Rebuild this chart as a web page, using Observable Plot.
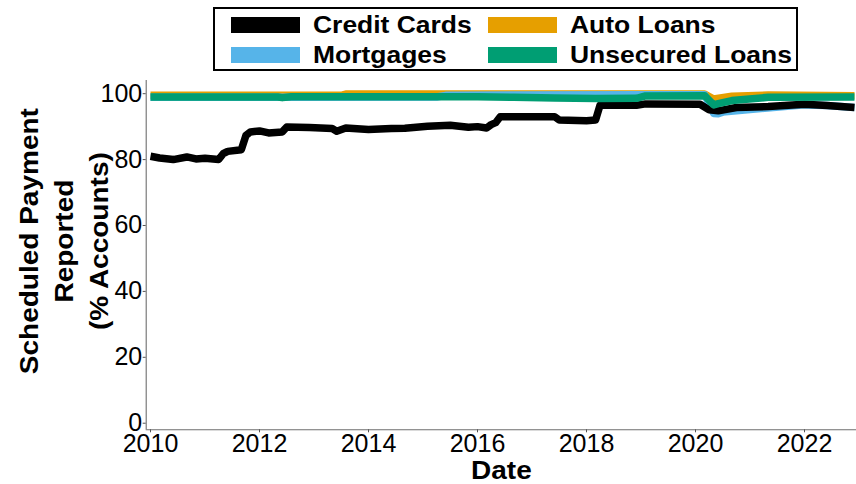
<!DOCTYPE html>
<html><head><meta charset="utf-8">
<script src="https://cdn.jsdelivr.net/npm/d3@7"></script>
<script src="https://cdn.jsdelivr.net/npm/@observablehq/plot@0.6"></script>
<style>
body{margin:0;background:#fff;font-family:"Liberation Sans",Arial,Helvetica,sans-serif;}
#wrap{position:relative;width:856px;height:484px;overflow:hidden;background:#fff}
#legend{position:absolute;left:213px;top:7px;width:581px;height:60px;border:2px solid #000}
.key{position:absolute;width:69px;height:16px}
.lab{position:absolute;font-weight:bold;font-size:23px;line-height:32px;white-space:nowrap;color:#000;transform:scaleX(1.15);transform-origin:left center}
#chart{position:absolute;left:0;top:78px}
</style></head><body>
<div id="wrap"><div id="legend"></div><div id="chart"></div></div>
<script>
// ---- data ----
const seriesNames = ["Credit Cards", "Auto Loans", "Mortgages", "Unsecured Loans"];
const seriesColors = ["#000000", "#E69F00", "#56B4E9", "#009E73"];

const ccDates = ["2010-01","2010-03","2010-06","2010-09","2010-11","2011-01","2011-04","2011-05","2011-06","2011-09","2011-10","2011-11","2012-01","2012-03","2012-06","2012-07","2012-12","2013-05","2013-06","2013-08","2014-01","2014-06","2014-09","2015-02","2015-07","2015-11","2016-01","2016-03","2016-04","2016-05","2016-06","2017-06","2017-07","2018-01","2018-03","2018-04","2018-12","2019-02","2020-02","2020-04","2020-06","2020-10","2021-05","2022-01","2022-06","2022-12"];
const ccValues = [81.0,80.5,80.0,80.8,80.2,80.4,80.0,81.8,82.5,83.0,87.3,88.4,88.7,88.1,88.4,89.9,89.7,89.4,88.6,89.6,89.1,89.4,89.5,90.1,90.4,89.8,90.0,89.6,90.6,91.2,93.0,93.0,92.0,91.8,92.0,96.6,96.5,96.9,96.8,95.1,94.8,95.8,96.1,96.8,96.4,95.8];

const auDates = ["2010-01","2013-07","2013-08","2020-03","2020-05","2020-09","2021-05","2022-12"];
const auValues = [99.5,99.5,99.9,99.9,98.4,99.2,99.6,99.4];

const moDates = ["2010-01","2015-04","2015-06","2019-02","2020-03","2020-05","2020-06","2020-07","2021-01","2021-08","2022-01","2022-06","2022-12"];
const moValues = [98.9,99.0,99.5,99.7,99.7,94.0,93.9,94.4,95.2,96.0,96.6,96.4,95.8];

const unDates = ["2010-01","2011-06","2012-05","2012-06","2012-08","2014-01","2016-01","2016-09","2017-06","2018-03","2018-12","2019-02","2020-03","2020-05","2020-06","2020-09","2021-05","2022-12"];
const unValues = [99.0,99.0,99.0,98.8,99.1,99.1,99.1,98.9,98.7,98.5,98.6,99.3,99.4,96.6,97.0,97.9,98.9,99.0];

const yTicks = [0, 20, 40, 60, 80, 100];
const xTicks = [2010, 2012, 2014, 2016, 2018, 2020, 2022];

// ---- build tables ----
function toYear(s) { const [y, m] = s.split("-").map(Number); return y + (m - 1) / 12; }
function table(name, dates, values) { return dates.map((d, i) => ({name, date: toYear(d), value: values[i]})); }
const cc = table("Credit Cards", ccDates, ccValues);
const au = table("Auto Loans", auDates, auValues);
const mo = table("Mortgages", moDates, moValues);
const un = table("Unsecured Loans", unDates, unValues);

// ---- legend ----
const legend = document.getElementById("legend");
const legendPos = [[16, 8], [273, 8], [16, 38], [273, 38]];
const legendOrder = ["Credit Cards", "Auto Loans", "Mortgages", "Unsecured Loans"];
legendOrder.forEach((n, i) => {
  const [lx, ly] = legendPos[i];
  const k = document.createElement("div");
  k.className = "key"; k.style.left = lx + "px"; k.style.top = ly + "px";
  k.style.background = seriesColors[seriesNames.indexOf(n)];
  legend.appendChild(k);
  const t = document.createElement("div");
  t.className = "lab"; t.style.left = (lx + 82) + "px"; t.style.top = (ly - 8) + "px";
  t.textContent = n;
  legend.appendChild(t);
});

// ---- chart ----
const yTitleLines = ["Scheduled Payment", "Reported", "(% Accounts)"];
const xTitle = "Date";
const x0 = 2009.921, x1 = 2022.954, y0 = -2, y1 = 104;
const lineOpts = () => ({x: "date", y: "value", stroke: "name", strokeWidth: 7.5, strokeLinejoin: "round", strokeLinecap: "butt"});
const plot = Plot.plot({
  width: 856,
  height: 406,
  marginTop: 2,
  marginBottom: 54.7,
  marginLeft: 145.7,
  marginRight: 0,
  style: {fontFamily: '"Liberation Sans", Arial, Helvetica, sans-serif', fontSize: "25px", background: "white", color: "black"},
  x: {domain: [x0, x1]},
  y: {domain: [y0, y1]},
  color: {domain: seriesNames, range: seriesColors},
  marks: [
    Plot.ruleX([x0], {y1: y0, y2: y1, stroke: "#6e6e6e", strokeWidth: 1.1}),
    Plot.ruleY([y0], {x1: x0, x2: x1, stroke: "#6e6e6e", strokeWidth: 1.1}),
    Plot.axisY({ticks: yTicks, tickSize: 3, tickPadding: 1, stroke: "#555", fill: "black", label: null}),
    Plot.axisX({ticks: xTicks, tickSize: 3, tickPadding: 1, tickFormat: d3.format("d"), stroke: "#555", fill: "black", label: null}),
    Plot.line(au, lineOpts()),
    Plot.line(mo, lineOpts()),
    Plot.line(cc, lineOpts()),
    Plot.line(un, lineOpts()),
    Plot.text([0], {frameAnchor: "left", text: () => yTitleLines.join("\n"), rotate: -90, textAnchor: "middle", lineAnchor: "middle", dx: -84, dy: -14, fontWeight: "bold", fontSize: 25, lineHeight: 1.4, fill: "black"}),
    Plot.text([0], {frameAnchor: "bottom", text: () => xTitle, textAnchor: "middle", lineAnchor: "middle", dy: 40.7, fontWeight: "bold", fontSize: 25, fill: "black"})
  ]
});
document.getElementById("chart").appendChild(plot);

// widen the bold titles slightly to match the reference's wider bold face
function stretch(el, k) {
  const len = el.getComputedTextLength();
  if (len > 0) { el.setAttribute("textLength", (len * k).toFixed(1)); el.setAttribute("lengthAdjust", "spacingAndGlyphs"); }
}
const targets = new Set([...yTitleLines, xTitle]);
plot.querySelectorAll("tspan").forEach(el => { if (targets.has(el.textContent)) stretch(el, 1.12); });
plot.querySelectorAll("text").forEach(el => { if (el.children.length === 0 && el.textContent === xTitle) stretch(el, 1.12); });
</script></body></html>
